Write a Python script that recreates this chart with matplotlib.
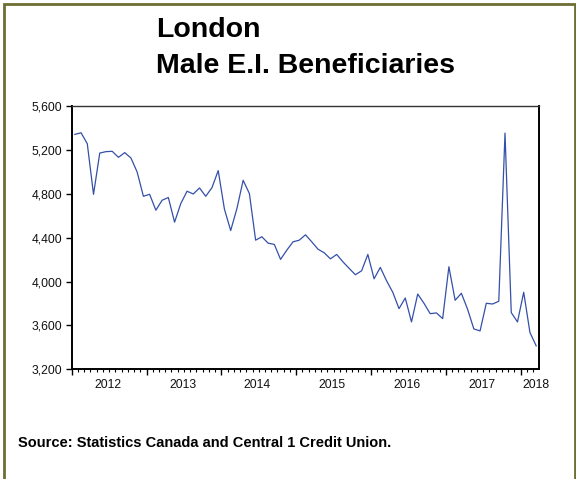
import matplotlib
matplotlib.use("Agg")
import matplotlib.pyplot as plt
import matplotlib.transforms as mtransforms
from matplotlib.patches import Rectangle
import numpy as np

plt.rcParams['font.family'] = ['Liberation Sans', 'DejaVu Sans']

# Monthly values, Jan 2012 .. Mar 2018
values = [
    5341, 5356, 5256, 4795, 5171, 5184, 5187, 5132, 5175, 5126, 4998, 4777,   # 2012
    4795, 4650, 4741, 4766, 4541, 4711, 4823, 4798, 4853, 4777, 4856, 5011,   # 2013
    4659, 4465, 4665, 4923, 4802, 4377, 4408, 4350, 4338, 4202, 4286, 4362,   # 2014
    4377, 4426, 4362, 4295, 4262, 4207, 4247, 4180, 4120, 4062, 4098, 4247,   # 2015
    4025, 4129, 4007, 3902, 3753, 3850, 3632, 3886, 3802, 3707, 3714, 3662,   # 2016
    4135, 3829, 3893, 3747, 3568, 3550, 3802, 3795, 3820, 5353, 3717, 3632,   # 2017
    3902, 3535, 3414,                                                         # 2018
]
years = ["2012", "2013", "2014", "2015", "2016", "2017", "2018"]
yticks = [3200, 3600, 4000, 4400, 4800, 5200, 5600]
title_lines = ["London", "Male E.I. Beneficiaries"]
source = "Source: Statistics Canada and Central 1 Credit Union."

W, H = 576, 479
fig = plt.figure(figsize=(W / 100, H / 100), dpi=100)
fig.patch.set_facecolor("white")

def fx(px):
    return px / W

def fy(py):
    return 1 - py / H

ax = fig.add_axes([fx(71.7), fy(369.3), fx(539.3) - fx(71.7), fy(106) - fy(369.3)])

n = len(values)
x = np.arange(n) + 0.5
ax.plot(x, values, color="#3450a8", lw=0.9)

ax.set_xlim(0, n)
ax.set_ylim(3200, 5600)
ax.set_yticks(yticks)
ax.set_yticklabels([f"{v:,}" for v in yticks])

major = np.arange(0, n + 1, 12)
minor = [m for m in range(1, n) if m % 12 != 0]
ax.set_xticks(major)
ax.set_xticklabels([])
ax.set_xticks(minor, minor=True)
ax.tick_params(axis="x", which="major", direction="out", length=4, width=1.0)
ax.tick_params(axis="x", which="minor", direction="out", length=2.2, width=0.8)
ax.tick_params(axis="y", which="major", direction="out", length=4.5, width=1.0,
               labelsize=8.7, pad=2.5, labelcolor="#111111")

trans = mtransforms.blended_transform_factory(ax.transData, fig.transFigure)
label_pos = [5.8, 17.8, 29.8, 41.8, 53.8, 65.8, 74.5]
for yr, xp in zip(years, label_pos):
    ax.text(xp, fy(385.5), yr, transform=trans, ha="center", va="center",
            fontsize=8.7, color="#111111")

for side in ["left", "right", "bottom"]:
    ax.spines[side].set_linewidth(1.4)
    ax.spines[side].set_color("black")
ax.spines["top"].set_linewidth(1.0)
ax.spines["top"].set_color("#333333")

fig.text(fx(156), fy(36.8), title_lines[0], fontsize=20.5, fontweight="bold",
         ha="left", va="baseline")
fig.text(fx(156), fy(72.8), title_lines[1], fontsize=20.5, fontweight="bold",
         ha="left", va="baseline")

fig.text(fx(18.3), fy(446.7), source, fontsize=10.5, fontweight="bold",
         ha="left", va="baseline")

border = Rectangle((fx(3.5), fy(490)), fx(574.5) - fx(3.5), fy(3.5) - fy(490),
                   transform=fig.transFigure, fill=False, edgecolor="#6e6e32",
                   linewidth=2.0, clip_on=False)
fig.patches.append(border)

fig.savefig("out.png", dpi=100, facecolor="white")
